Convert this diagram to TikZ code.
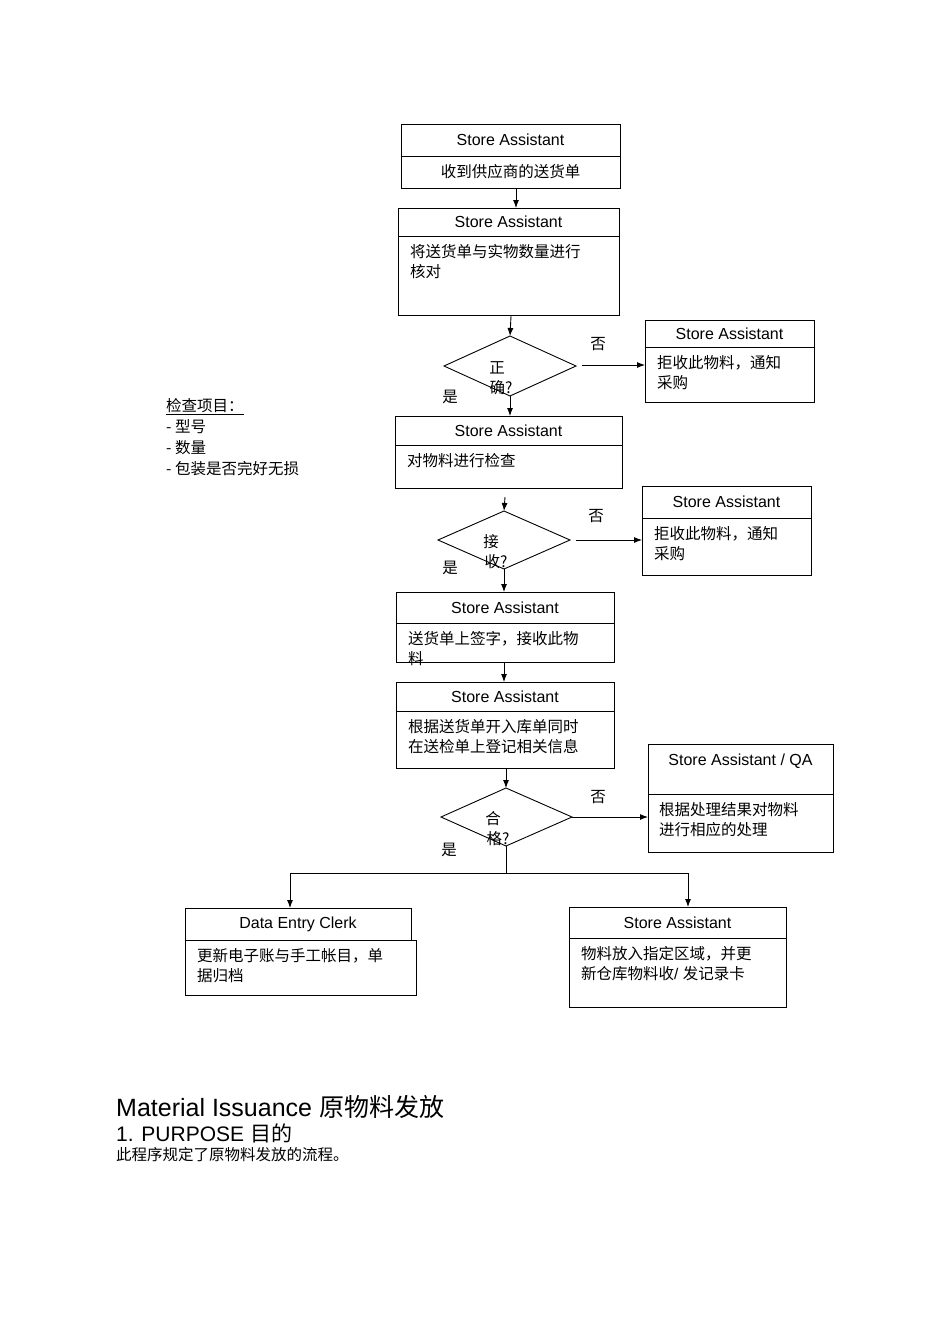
\documentclass[tikz,border=0pt]{standalone}
\usepackage{fontspec}
\usetikzlibrary{arrows.meta}
\setmainfont{Liberation Sans}
\newfontfamily\cjk{Noto Sans CJK SC}
\newcommand\flowbox[8]{%
  \node[bx,inner sep=0pt,anchor=north west,minimum width={#4-#2},minimum height={#5-#3}] (#1) at (#2,#3) {};
  \draw[ln] (#2,#6) -- (#4,#6);
  \node[ttl] at ({(#2+#4)/2},{(#3+#6)/2}) {#7};
  \node[bd] at ({#2+12},{#6+8}) {#8};}
\begin{document}
\begin{tikzpicture}[x=1pt,y=-1pt,
  bx/.style={draw,line width=0.9pt},
  ln/.style={line width=0.9pt},
  arr/.style={ln,-{Latex[length=8pt,width=6pt]}},
  ttl/.style={font=\fontsize{16}{19}\selectfont,inner sep=0pt},
  bd/.style={font=\fontsize{15.5}{20}\selectfont\cjk,inner sep=0pt,align=left,anchor=north west},
  lbl/.style={font=\fontsize{15.5}{19}\selectfont\cjk,inner sep=0pt}]
\useasboundingbox (0,0) rectangle (950,1344);
\flowbox{b1}{401}{124}{620}{188}{156}{Store Assistant}{}
\node[lbl] at (510.5,172) {收到供应商的送货单};
\flowbox{b2}{398}{208}{619}{315}{236}{Store Assistant}{将送货单与实物数量进行\\核对}
\flowbox{r1}{645}{320}{814}{402}{347}{Store Assistant}{拒收此物料，通知\\采购}
\flowbox{b3}{395}{416}{622}{488}{445}{Store Assistant}{对物料进行检查}
\flowbox{r2}{642}{486}{811}{575}{518}{Store Assistant}{拒收此物料，通知\\采购}
\flowbox{b4}{396}{592}{614}{662}{623}{Store Assistant}{送货单上签字，接收此物\\料}
\flowbox{b5}{396}{682}{614}{768}{711}{Store Assistant}{根据送货单开入库单同时\\在送检单上登记相关信息}
% QA box
\node[bx,inner sep=0pt,anchor=north west,minimum width=185,minimum height=108] (r3) at (648,744) {};
\draw[ln] (648,794) -- (833,794);
\node[ttl] at (740.5,761) {Store Assistant / QA};
\node[bd] at (659,802) {根据处理结果对物料\\进行相应的处理};
% Data entry clerk
\node[bx,inner sep=0pt,anchor=north west,minimum width=226,minimum height=32] (c1) at (185,908) {};
\node[ttl] at (298,924) {Data Entry Clerk};
\node[bx,inner sep=0pt,anchor=north west,minimum width=231,minimum height=55] (c2) at (185,940) {};
\node[bd] at (197,948) {更新电子账与手工帐目，单\\据归档};
\flowbox{s1}{569}{907}{786}{1007}{938}{Store Assistant}{物料放入指定区域，并更\\新仓库物料收{\fontspec{Liberation Sans} / }发记录卡}
% diamonds
\draw[ln] (444,366) -- (510,336) -- (576,366) -- (510,396) -- cycle;
\draw[ln] (438,540) -- (504,511) -- (570,540) -- (504,569) -- cycle;
\draw[ln] (441,817) -- (506,788) -- (572,817) -- (506,846) -- cycle;
\coordinate (d1t) at (510,336); \coordinate (d1b) at (510,396); \coordinate (d1r) at (582,365);
\coordinate (d2t) at (504,511); \coordinate (d2b) at (504,569); \coordinate (d2r) at (576,540);
\coordinate (d3t) at (506,788); \coordinate (d3b) at (506,846); \coordinate (d3r) at (572,817);
\node[lbl] at (497,368) {正}; \node[lbl] at (501,388) {确?};
\node[lbl] at (491,542) {接}; \node[lbl] at (496,562) {收?};
\node[lbl] at (493,819) {合}; \node[lbl] at (498,839) {格?};
\node[lbl] at (598,344) {否}; \node[lbl] at (596,516) {否}; \node[lbl] at (598,797) {否};
\node[lbl] at (450,397) {是}; \node[lbl] at (450,568) {是}; \node[lbl] at (449,850) {是};
% connectors
\draw[arr] (b1.south -| 516,0) -- (b2.north -| 516,0);
\draw[arr] (b2.south -| 511,0) -- (d1t);
\draw[arr] (d1b) -- (b3.north -| 510,0);
\draw[arr] (d1r) -- (r1.west |- 0,365);
\coordinate (b3o) at (505,497);
\draw[arr] (b3o) -- (d2t);
\draw[arr] (d2b) -- (b4.north -| 504,0);
\draw[arr] (d2r) -- (r2.west |- 0,540);
\draw[arr] (b4.south -| 504,0) -- (b5.north -| 504,0);
\draw[arr] (b5.south -| 506,0) -- (d3t);
\draw[arr] (d3r) -- (r3.west |- 0,817);
\coordinate (j) at (506,873);
\draw[ln] (d3b) -- (j);
\draw[arr] (j) -| (c1.north -| 290,0);
\draw[arr] (j) -| (s1.north -| 688,0);
% note
\node[lbl,anchor=west] at (166,407) {\underline{检查项目：}};
\node[lbl,anchor=west] at (166,427) {- 型号};
\node[lbl,anchor=west] at (166,448) {- 数量};
\node[lbl,anchor=west] at (166,469) {- 包装是否完好无损};
% bottom text
\node[anchor=west,inner sep=0pt,font=\fontsize{25}{28}\selectfont] at (116,1107) {Material Issuance {\cjk 原物料发放}};
\node[anchor=west,inner sep=0pt,font=\fontsize{21}{24}\selectfont] at (116,1133) {1. PURPOSE {\cjk 目的}};
\node[lbl,anchor=west] at (116,1155) {此程序规定了原物料发放的流程。};
\end{tikzpicture}
\end{document}
